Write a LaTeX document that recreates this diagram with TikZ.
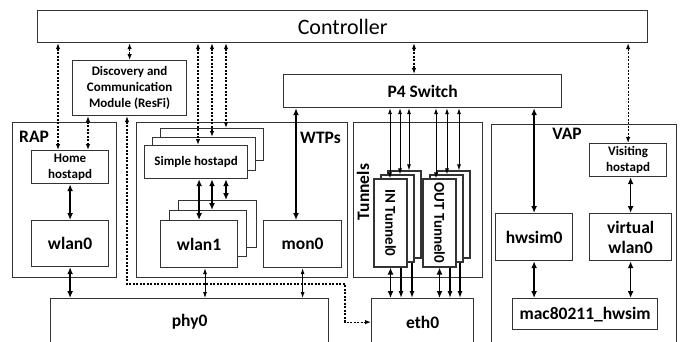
\documentclass[tikz,border=0pt]{standalone}
\usepackage{fontspec}
\setmainfont{Carlito}
\usetikzlibrary{arrows.meta}

\begin{document}
\begin{tikzpicture}[x=1pt, y=-1pt,
  box/.style={draw=black!80, line width=1.2pt, fill=white, inner sep=0pt, anchor=north west, align=center, font=\bfseries\fontsize{17.5}{20}\selectfont},
  small/.style={font=\bfseries\fontsize{13}{16}\selectfont},
  grp/.style={font=\bfseries\fontsize{17.5}{20}\selectfont, inner sep=0pt},
  tunbox/.style={box, anchor=center, rotate=-90, minimum height=33, font=\bfseries\fontsize{15}{18}\selectfont},
  ctl/.style={{Latex[length=6pt,width=4.5pt]}-{Latex[length=6pt,width=4.5pt]}, line width=1.1pt, dash pattern=on 2pt off 1.5pt},
  link/.style={{Latex[length=7pt,width=6pt]}-{Latex[length=7pt,width=6pt]}, line width=1.6pt},
  wire/.style={{Latex[length=6pt,width=4pt]}-{Latex[length=6pt,width=4pt]}, line width=0.8pt},
  down/.style={-{Latex[length=7pt,width=5pt]}, line width=1.3pt}]
  \useasboundingbox (0,0) rectangle (680,341);

  \node[box, minimum width=610, minimum height=32, font=\fontsize{22}{26}\selectfont] (ctrl) at (37,10) {Controller};
  \node[box, small, minimum width=114, minimum height=55] (disc) at (72,60) {Discovery and\\Communication\\Module (ResFi)};
  \node[box, minimum width=278, minimum height=33] (p4) at (283,74) {P4 Switch};

  % groups
  \node[box, minimum width=104, minimum height=155] (rap) at (12,122) {};
  \node[grp, anchor=base west] (raplbl) at (19,142) {RAP};
  \node[box, minimum width=211, minimum height=155] (wtp) at (136,122) {};
  \node[grp, anchor=base west] (wtplbl) at (300,143) {WTPs};
  \node[box, minimum width=129, minimum height=155] (tun) at (353,122) {};
  \node[grp, rotate=90, anchor=base] (tunlbl) at (369,192) {Tunnels};
  \node[box, minimum width=185, minimum height=225] (vap) at (491,124) {};
  \node[grp, anchor=base] (vaplbl) at (567,139) {VAP};

  % RAP
  \node[box, small, minimum width=77, minimum height=33] (home) at (31,150) {Home\\hostapd};
  \node[box, minimum width=77, minimum height=46] (wlan0) at (31,220) {wlan0};

  % WTPs
  \node[box, small, minimum width=103, minimum height=32] (hostc) at (160,128) {};
  \node[box, small, minimum width=103, minimum height=33] (hostb) at (152,137) {};
  \node[box, small, minimum width=103, minimum height=33] (hosta) at (144,145) {Simple hostapd};
  \node[box, minimum width=78, minimum height=47] (wlan1c) at (178,200) {};
  \node[box, minimum width=77, minimum height=46] (wlan1b) at (169,210) {};
  \node[box, minimum width=77, minimum height=47] (wlan1a) at (160,220) {wlan1};
  \node[box, minimum width=78, minimum height=47] (mon0) at (263,220) {mon0};

  % tunnels
  \node[tunbox, minimum width=87] (inc) at (404.5,214.5) {};
  \node[tunbox, minimum width=87] (inb) at (397.5,218.5) {};
  \node[tunbox, minimum width=88] (ina) at (390.5,223) {IN Tunnel0};
  \node[tunbox, minimum width=87] (outc) at (453.5,214.5) {};
  \node[tunbox, minimum width=87] (outb) at (446.5,218.5) {};
  \node[tunbox, minimum width=88] (outa) at (439.5,223) {OUT Tunnel0};

  % VAP
  \node[box, small, minimum width=77, minimum height=33] (visit) at (589,143) {Visiting\\hostapd};
  \node[box, minimum width=77, minimum height=47] (hwsim0) at (495,213) {hwsim0};
  \node[box, minimum width=82, minimum height=47] (vwlan0) at (589,213) {virtual\\wlan0};
  \node[box, minimum width=145, minimum height=31] (mac) at (512,298) {mac80211\_hwsim};

  \node[box, minimum width=102, minimum height=47] (eth0) at (371,298) {eth0};
  \node[box, minimum width=278, minimum height=47] (phy0) at (50,298) {phy0};

  % control plane
  \draw[ctl] (58,0 |- ctrl.south) -- (58,0 |- home.north);
  \draw[ctl] (88,0 |- disc.south) -- (88,0 |- home.north);
  \draw[ctl] (disc.north |- ctrl.south) -- (disc.north);
  \draw[ctl] (198,0 |- ctrl.south) -- (198,0 |- hosta.north);
  \draw[ctl] (212,0 |- ctrl.south) -- (212,0 |- hostb.north);
  \draw[ctl] (226,0 |- ctrl.south) -- (226,0 |- hostc.north);
  \draw[ctl] (414,0 |- ctrl.south) -- (414,0 |- p4.north);
  \draw[ctl] (visit.north |- ctrl.south) -- (visit.north);
  \coordinate (turn) at (345,284);
  \draw[ctl] (127,0 |- disc.south) |- (turn) |- (eth0.west);

  % data plane
  \draw[link] (home.south) -- (home.south |- wlan0.north);
  \draw[link] (wlan0.south) -- (wlan0.south |- phy0.north);
  \draw[link] (hosta.south -| wlan1a.north) -- (wlan1a.north);
  \draw[link] (212,0 |- hosta.south) -- (212,0 |- wlan1b.north);
  \draw[link] (226,0 |- hosta.south) -- (226,0 |- wlan1c.north);
  \draw[wire] (205,0 |- wlan1a.south) -- (205,0 |- phy0.north);
  \draw[wire] (mon0.south) -- (mon0.south |- phy0.north);
  \draw[link] (296,0 |- p4.south) -- (296,0 |- mon0.north);
  \draw[link] (hwsim0.north |- p4.south) -- (hwsim0.north);
  \draw[link] (visit.south -| vwlan0.north) -- (vwlan0.north);
  \draw[link] (hwsim0.south) -- (hwsim0.south |- mac.north);
  \draw[link] (vwlan0.south) -- (vwlan0.south |- mac.north);

  \draw[wire] (390,0 |- p4.south) -- (390,0 |- ina.west);
  \draw[wire] (400,0 |- p4.south) -- (400,0 |- inb.west);
  \draw[wire] (409,0 |- p4.south) -- (409,0 |- inc.west);
  \draw[wire] (436,0 |- p4.south) -- (436,0 |- outa.west);
  \draw[wire] (447,0 |- p4.south) -- (447,0 |- outb.west);
  \draw[wire] (459,0 |- p4.south) -- (459,0 |- outc.west);

  \draw[link] (ina.east) -- (ina.east |- eth0.north);
  \draw[down] (401,0 |- ina.east) -- (401,0 |- eth0.north);
  \draw[down] (412,0 |- inb.east) -- (412,0 |- eth0.north);
  \draw[link] (outa.east) -- (outa.east |- eth0.north);
  \draw[down] (450,0 |- outa.east) -- (450,0 |- eth0.north);
  \draw[down] (460,0 |- outb.east) -- (460,0 |- eth0.north);
\end{tikzpicture}
\end{document}
